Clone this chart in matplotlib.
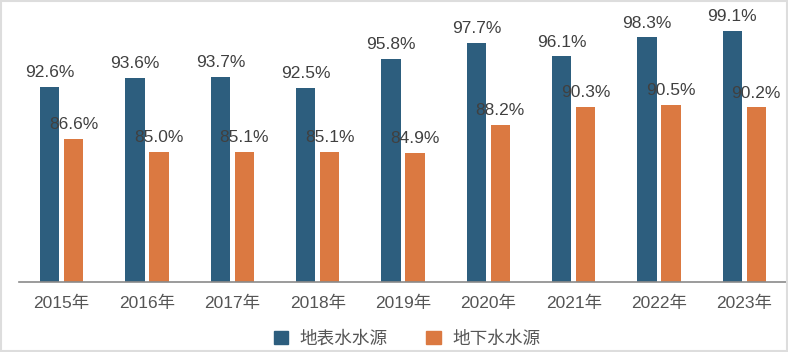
import numpy as np
import matplotlib
matplotlib.use("Agg")
import matplotlib.pyplot as plt
from matplotlib.patches import Rectangle, Patch

plt.rcParams['font.family'] = ['Liberation Sans', 'Noto Sans CJK SC', 'DejaVu Sans']

# data
years = ['2015年', '2016年', '2017年', '2018年', '2019年', '2020年', '2021年', '2022年', '2023年']
surface = [92.6, 93.6, 93.7, 92.5, 95.8, 97.7, 96.1, 98.3, 99.1]
ground = [86.6, 85.0, 85.1, 85.1, 84.9, 88.2, 90.3, 90.5, 90.2]
series_names = ['地表水水源', '地下水水源']

blue = '#2d5e7e'
orange = '#db7941'

W, H = 788, 352
fig = plt.figure(figsize=(W / 100, H / 100), dpi=100)
# axes placed in pixel terms: baseline at y=282, x from 19 to 787
ax = fig.add_axes([19 / W, (H - 282) / H, 768 / W, 259.2 / H])

x = np.arange(len(years))
bw = 0.225
off = 0.14
ax.bar(x - off, surface, width=bw, color=blue, zorder=2)
ax.bar(x + off, ground, width=bw, color=orange, zorder=2)

for xi, v in zip(x, surface):
    ax.annotate(f'{v:.1f}%', (xi - off, v), xytext=(0, 5), textcoords='offset points',
                ha='center', va='bottom', fontsize=12.5, color='#404040', zorder=5,
                annotation_clip=False)
for xi, v in zip(x, ground):
    ax.annotate(f'{v:.1f}%', (xi + off, v), xytext=(0, 5), textcoords='offset points',
                ha='center', va='bottom', fontsize=12.5, color='#404040', zorder=5,
                annotation_clip=False)

ax.set_xlim(-0.5, len(years) - 0.5)
ax.set_ylim(70, 100)
ax.set_xticks(x)
ax.set_xticklabels(years, fontsize=12.5, color='#555555')
ax.tick_params(axis='x', length=0, pad=10)
ax.set_yticks([])
for s in ['top', 'right', 'left']:
    ax.spines[s].set_visible(False)
ax.spines['bottom'].set_color('#8a8a8a')
ax.spines['bottom'].set_linewidth(1.2)
ax.set_facecolor('none')

handles = [Patch(color=blue), Patch(color=orange)]
fig.legend(handles, series_names, loc='center', bbox_to_anchor=(407 / W, 1 - 339 / H),
           ncol=2, frameon=False, fontsize=12.7, handlelength=0.8, handleheight=0.8,
           handletextpad=0.65, columnspacing=2.2, labelcolor='#555555')

# thin light grey frame round the picture
fig.patches.append(Rectangle((0.5 / W, 1.5 / H), 786 / W, 349.5 / H, transform=fig.transFigure,
                             fill=False, edgecolor='#dddddd', linewidth=1.5))

plt.savefig('out.png', dpi=100)
